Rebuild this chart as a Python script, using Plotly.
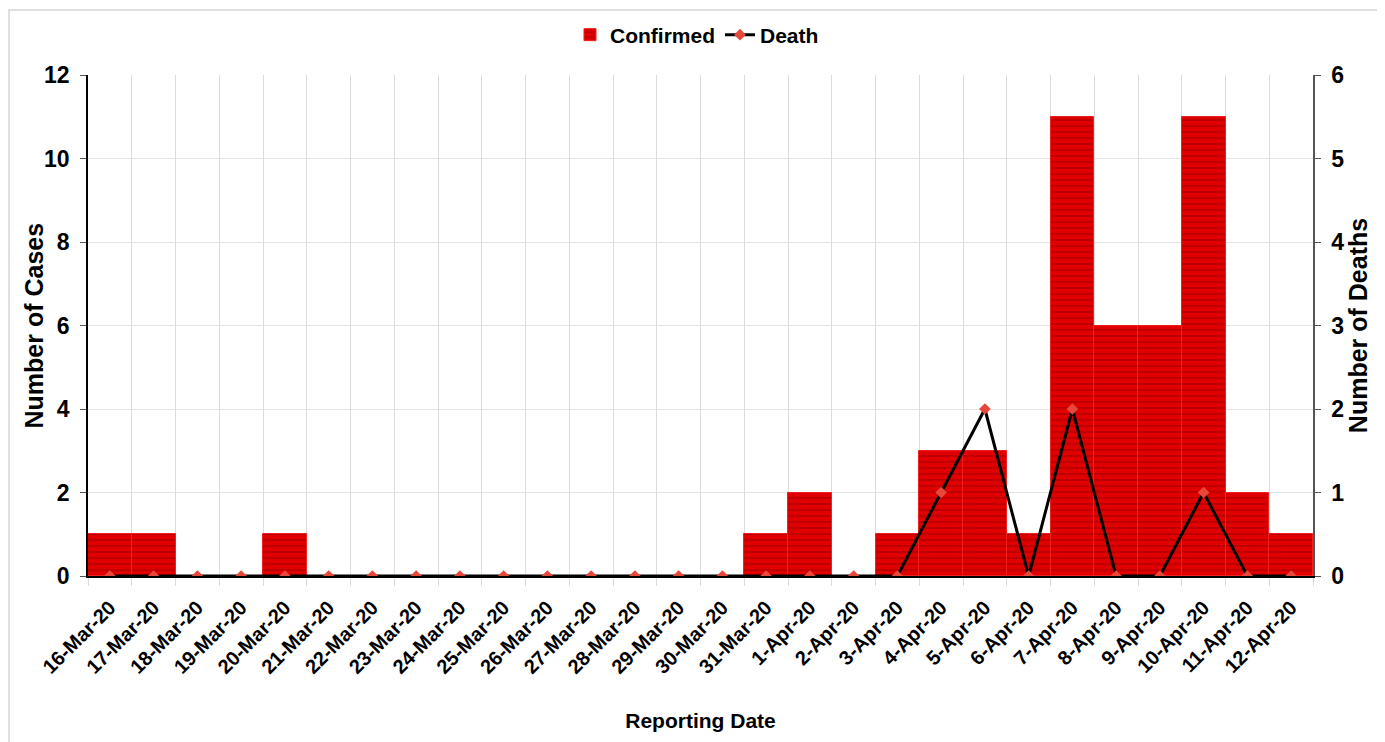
import plotly.graph_objects as go

dates = ["16-Mar-20", "17-Mar-20", "18-Mar-20", "19-Mar-20", "20-Mar-20", "21-Mar-20",
         "22-Mar-20", "23-Mar-20", "24-Mar-20", "25-Mar-20", "26-Mar-20", "27-Mar-20",
         "28-Mar-20", "29-Mar-20", "30-Mar-20", "31-Mar-20", "1-Apr-20", "2-Apr-20",
         "3-Apr-20", "4-Apr-20", "5-Apr-20", "6-Apr-20", "7-Apr-20", "8-Apr-20",
         "9-Apr-20", "10-Apr-20", "11-Apr-20", "12-Apr-20"]
confirmed = [1, 1, 0, 0, 1, 0, 0, 0, 0, 0, 0, 0, 0, 0, 0, 1, 2, 0, 1, 3, 3, 1, 11, 6, 6, 11, 2, 1]
deaths = [0, 0, 0, 0, 0, 0, 0, 0, 0, 0, 0, 0, 0, 0, 0, 0, 0, 0, 0, 1, 2, 0, 2, 0, 0, 1, 0, 0]

FONT = "Liberation Sans, Arial, sans-serif"

fig = go.Figure()
fig.add_trace(go.Bar(
    x=dates, y=confirmed, name="Confirmed",
    marker=dict(color="#e00000", line=dict(color="#f02020", width=1),
                pattern=dict(shape="-", fgcolor="#a00000", size=6, solidity=0.35)),
))
fig.add_trace(go.Scatter(
    x=dates, y=deaths, name="Death", yaxis="y2", mode="lines+markers",
    line=dict(color="black", width=3),
    marker=dict(symbol="diamond", size=9, color="#e8473c"),
))

OFF = 8  # page offset of the plot div
W, H = 1385 - OFF, 742 - OFF
L, T = 88 - OFF, 75 - OFF
pw, ph = 1225, 501
R = W - L - pw
B = H - T - ph

def px(x):
    return (x - OFF - L) / pw

def py(y):
    return (T + ph - (y - OFF)) / ph

fig.update_layout(
    width=W, height=H,
    margin=dict(l=L, r=R, t=T, b=B, autoexpand=False),
    paper_bgcolor="white", plot_bgcolor="white",
    bargap=0,
    font=dict(family=FONT, size=19, color="black", weight="bold"),
    showlegend=True,
    legend=dict(orientation="h", x=px(697), xanchor="center", y=py(35), yanchor="middle",
                font=dict(family=FONT, size=21, weight="bold"), itemwidth=30,
                bgcolor="rgba(0,0,0,0)"),
    xaxis=dict(
        type="category", range=[-0.5, len(dates) - 0.5], automargin=False,
        tickangle=-45, tickson="boundaries", ticks="outside", ticklen=8,
        tickcolor="#d9d9d9", showgrid=True, gridcolor="#dcdcdc", gridwidth=1,
        showline=True, linecolor="black", linewidth=2,
        ticklabelstandoff=10,
        tickfont=dict(family=FONT, size=20, weight="bold"),
        title=dict(text="Reporting Date", font=dict(family=FONT, size=21, weight="bold"), standoff=36),
    ),
    yaxis=dict(
        range=[0, 12], dtick=2, ticks="outside", ticklen=6, tickcolor="#555", automargin=False,
        showgrid=True, gridcolor="#e3e3e3", showline=True, linecolor="black", linewidth=1.5,
        zeroline=False, ticklabelstandoff=6,
        tickfont=dict(family=FONT, size=23, weight="bold"),
    ),
    yaxis2=dict(
        range=[0, 6], dtick=1, overlaying="y", side="right", ticks="outside", ticklen=6,
        tickcolor="#555", showgrid=False, showline=True, linecolor="#555", linewidth=1.5,
        zeroline=False, ticklabelstandoff=6, automargin=False,
        tickfont=dict(family=FONT, size=23, weight="bold"),
        title=dict(text="Number of Deaths", font=dict(family=FONT, size=25, weight="bold"), standoff=6),
    ),
    annotations=[dict(text="Number of Cases", xref="paper", yref="paper",
                      x=px(33), y=0.5, xanchor="center", yanchor="middle", textangle=-90,
                      showarrow=False, font=dict(family=FONT, size=25, weight="bold"))],
    shapes=[dict(type="rect", xref="paper", yref="paper",
                 x0=px(9), x1=px(1382), y0=py(760), y1=py(10),
                 line=dict(color="#d6d6d6", width=1.5), layer="below")],
)

fig.write_html("out.html")
